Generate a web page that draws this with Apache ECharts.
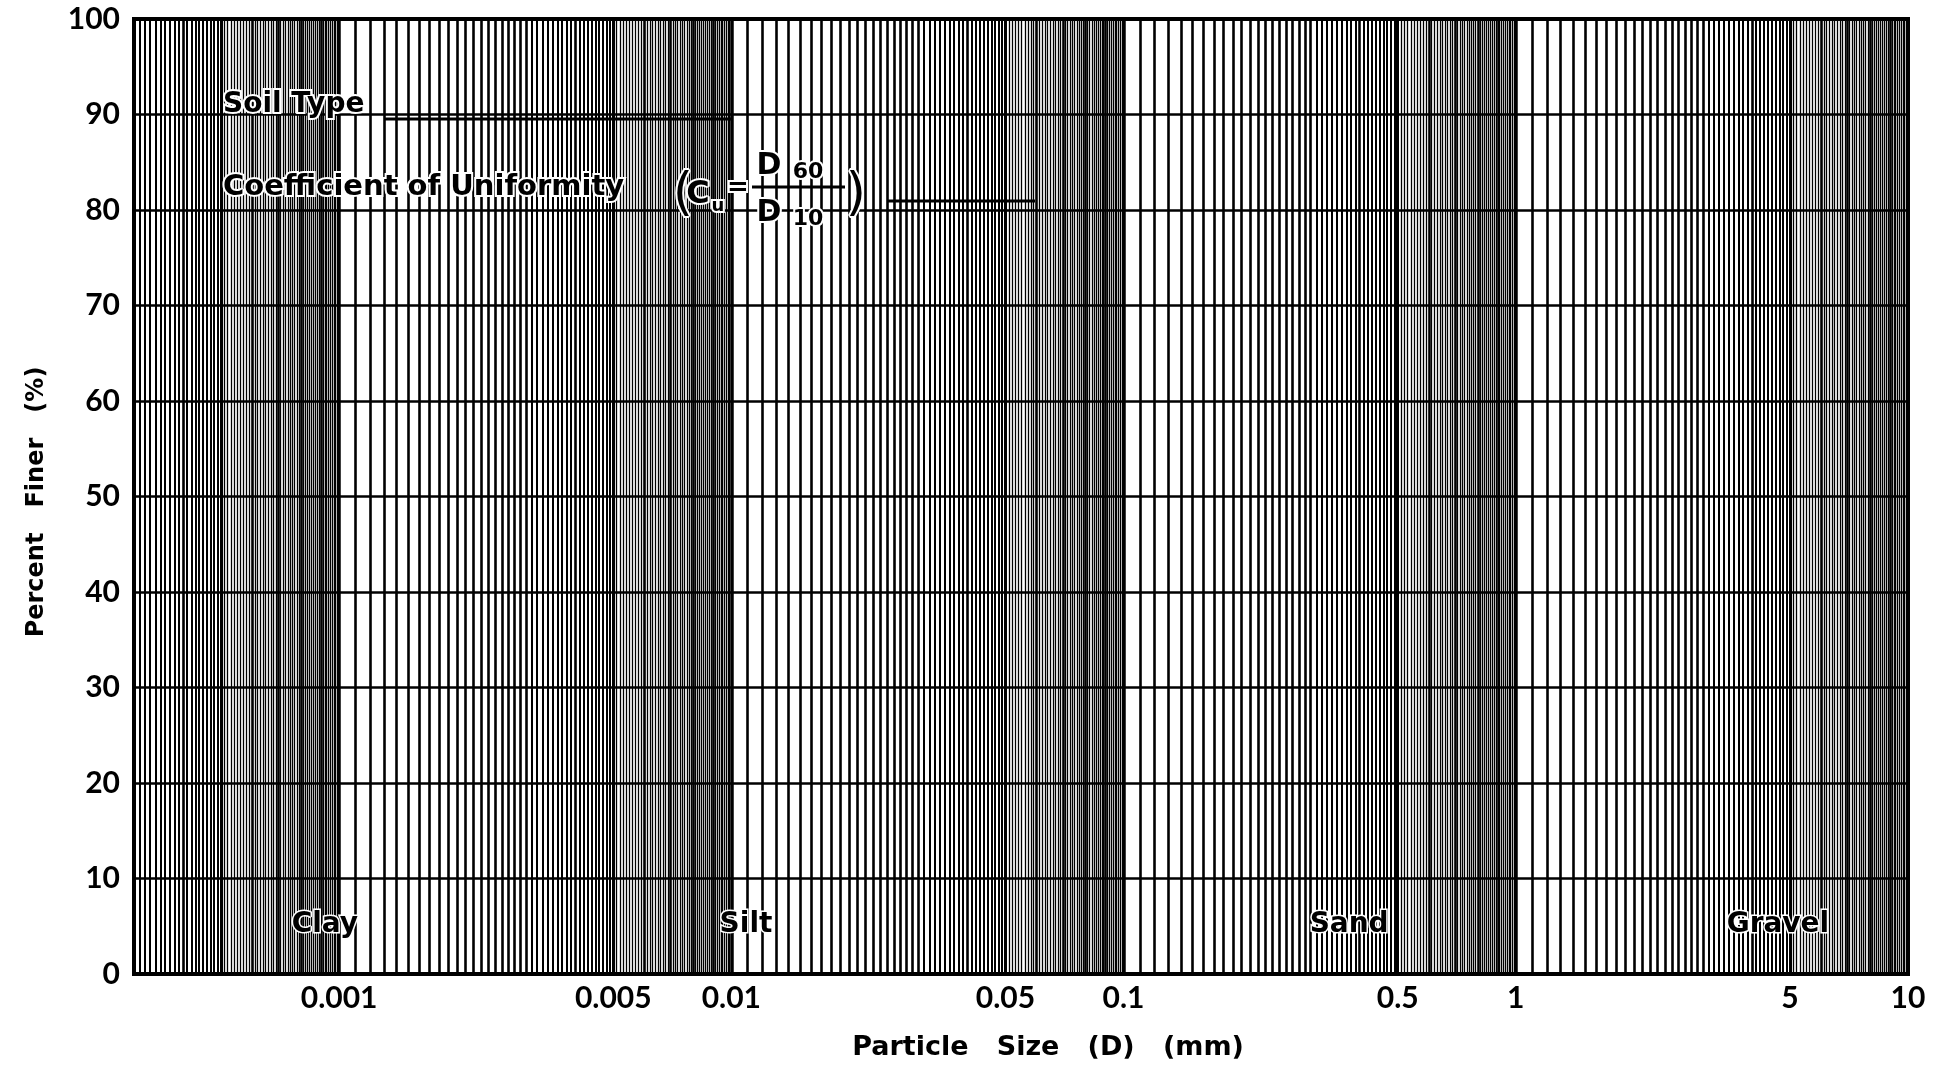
<!DOCTYPE html>
<html>
<head>
<meta charset="utf-8">
<script src="https://cdn.jsdelivr.net/npm/echarts@6/dist/echarts.min.js"></script>
<style>
  html, body { margin: 0; padding: 0; background: #fff; }
  #chart { width: 1945px; height: 1071px; }
</style>
</head>
<body>
<div id="chart"></div>
<script>
// semi-log grain size chart paper (blank form)
const xMin = 0.0003
const xMax = 10
const tickValues = [0.001, 0.005, 0.01, 0.05, 0.1, 0.5, 1, 5, 10]
const tickLabels = ['0.001', '0.005', '0.01', '0.05', '0.1', '0.5', '1', '5', '10']
const zoneNames = ['Clay', 'Silt', 'Sand', 'Gravel']
const zoneSizes = [0.00092, 0.0109, 0.376, 4.66]
const zoneLevels = [5.2, 5.2, 5.2, 5.2]
const decadeStarts = [0.0001, 0.001, 0.01, 0.1, 1]
const gridSteps = [] // mantissa x10: 10, 11, ... 99
for (let m = 10; m < 100; m++) gridSteps.push(m)

const ink = '#000'
const textFont = '"DejaVu Sans", sans-serif'
const numFont = 'Lato, "DejaVu Sans", sans-serif'

// vertical rulings of the log paper, heavier where they are sparse
const rulings = []
decadeStarts.forEach(d => {
  gridSteps.forEach(m => {
    const v = Number((d * m / 10).toPrecision(6))
    if (v < xMin || v > xMax) return
    let w = m < 30 ? 2.6 : (m < 50 ? 2 : 1.3)
    if (m === 10) w = 3.5
    else if (m === 50) w = 3
    else if (m % 10 === 0) w = 2.6
    rulings.push({ xAxis: v, lineStyle: { width: w, color: ink, type: 'solid' } })
  })
})
rulings.push({ xAxis: xMax, lineStyle: { width: 3.5, color: ink, type: 'solid' } })

const chart = echarts.init(document.getElementById('chart'))

const label = (text, x, y, size, extra, rotation) => ({
  type: 'text', x, y, z: 100, rotation: rotation || 0,
  style: Object.assign({
    text, fill: ink, fontFamily: textFont, fontWeight: 'bold', fontSize: size,
    align: 'center', verticalAlign: 'middle',
    stroke: '#fff', lineWidth: 4
  }, extra || {})
})
const rule = (x1, y1, x2, y2, w) => ({
  type: 'line', z: 100,
  shape: { x1, y1, x2, y2 },
  style: { stroke: ink, lineWidth: w }
})

chart.setOption({
  backgroundColor: '#fff',
  animation: false,
  grid: {
    left: 134, right: 37, top: 19, bottom: 97,
    show: true, borderColor: ink, borderWidth: 4, backgroundColor: '#fff'
  },
  xAxis: {
    type: 'log',
    min: xMin,
    max: xMax,
    axisLine: { show: false },
    axisTick: { show: false },
    axisLabel: { show: false },
    splitLine: { show: false }
  },
  yAxis: {
    type: 'value',
    min: 0,
    max: 100,
    interval: 10,
    axisLine: { show: false },
    axisTick: { show: false },
    axisLabel: {
      color: ink, fontFamily: numFont, fontWeight: 'bold', fontSize: 30, margin: 14
    },
    splitLine: { lineStyle: { color: ink, width: 2.5 } }
  },
  series: [
    {
      type: 'scatter',
      symbolSize: 0,
      clip: false,
      silent: true,
      itemStyle: { opacity: 1 },
      data: tickValues.map(v => [v, 0]),
      label: {
        show: true,
        position: 'bottom',
        distance: 9,
        formatter: p => tickLabels[p.dataIndex],
        color: ink, fontFamily: numFont, fontWeight: 'bold', fontSize: 30
      },
      markLine: {
        silent: true,
        precision: 8,
        symbol: ['none', 'none'],
        label: { show: false },
        data: rulings
      }
    },
    {
      type: 'scatter',
      symbolSize: 0,
      silent: true,
      z: 10,
      itemStyle: { opacity: 1 },
      data: zoneSizes.map((v, i) => [v, zoneLevels[i]]),
      label: {
        show: true,
        position: 'inside',
        formatter: p => zoneNames[p.dataIndex],
        color: ink, fontFamily: textFont, fontWeight: 'bold', fontSize: 28,
        textBorderColor: '#fff', textBorderWidth: 3
      }
    }
  ],
  graphic: [
    label('Percent   Finer   (%)', 37, 502, 24, { stroke: null, lineWidth: 0 }, Math.PI / 2),
    label('Particle   Size   (D)   (mm)', 1048, 1048, 27, { stroke: null, lineWidth: 0 }),
    label('Soil Type', 223, 105, 28, { align: 'left' }),
    rule(385, 119, 732, 119, 3),
    label('Coefficient of Uniformity', 223, 187, 29, { align: 'left' }),
    label('(', 683, 195, 52, { fontWeight: 'normal' }),
    label('C', 698, 195, 32),
    label('u', 718, 206, 18),
    label('=', 738, 188, 26),
    rule(752, 187, 845, 187, 3),
    label('D', 769, 166, 30),
    label('60', 808, 172, 22),
    label('D', 769, 213, 30),
    label('10', 808, 219, 22),
    label(')', 856, 195, 52, { fontWeight: 'normal' }),
    rule(887, 201, 1035, 201, 3)
  ]
})
</script>
</body>
</html>
